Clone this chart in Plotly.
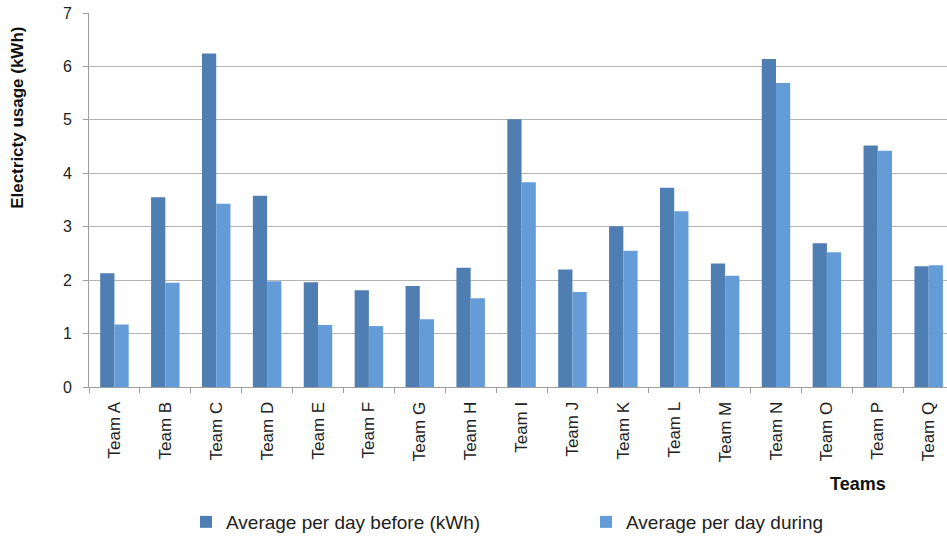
import plotly.graph_objects as go

teams = ["Team A", "Team B", "Team C", "Team D", "Team E", "Team F", "Team G", "Team H",
         "Team I", "Team J", "Team K", "Team L", "Team M", "Team N", "Team O", "Team P", "Team Q"]
before = [2.13, 3.55, 6.24, 3.58, 1.96, 1.81, 1.89, 2.23, 5.01, 2.20, 3.01, 3.73, 2.31, 6.14, 2.69, 4.52, 2.26]
during = [1.17, 1.95, 3.43, 1.98, 1.16, 1.14, 1.27, 1.66, 3.83, 1.78, 2.55, 3.29, 2.08, 5.69, 2.52, 4.42, 2.28]
series_names = ["Average per day before (kWh)", "Average per day during"]
y_ticks = [0, 1, 2, 3, 4, 5, 6, 7]

FONT = "Liberation Sans, Arial, sans-serif"

fig = go.Figure()
fig.add_trace(go.Bar(x=teams, y=before, name=series_names[0],
                     marker=dict(color="#4E7EB2", line=dict(width=0))))
fig.add_trace(go.Bar(x=teams, y=during, name=series_names[1],
                     marker=dict(color="#649CD8", line=dict(width=0))))

fig.update_layout(
    width=947, height=536,
    margin=dict(l=89, r=0, t=13, b=149),
    paper_bgcolor="white", plot_bgcolor="white",
    barmode="group", bargap=0.44, bargroupgap=0,
    font=dict(family=FONT, color="#222222"),
    showlegend=True,
    legend=dict(orientation="h", xref="container", yref="container",
                x=186/947, y=1 - 522/536, xanchor="left", yanchor="middle",
                entrywidth=355, font=dict(size=19, color="#222222"),
                bgcolor="rgba(0,0,0,0)", itemclick=False),
    xaxis=dict(type="category", range=[-0.5, 16.36],
               showline=True, linecolor="#9E9E9E", linewidth=1,
               ticks="outside", tickson="boundaries", ticklen=5, tickcolor="#9E9E9E",
               tickangle=-90, tickfont=dict(size=17, color="#222222"),
               ticklabelstandoff=7, showgrid=False, zeroline=False),
    yaxis=dict(range=[0, 7], tickvals=y_ticks, showgrid=True, gridcolor="#B4B4B4", gridwidth=1,
               showline=True, linecolor="#9E9E9E", linewidth=1,
               ticks="outside", ticklen=5, tickcolor="#9E9E9E",
               tickfont=dict(size=16, color="#222222"), ticklabelstandoff=8,
               zeroline=False),
    annotations=[
        dict(text="<b>Electricty usage (kWh)</b>", xref="paper", yref="paper",
             x=(18 - 89) / 858, y=(386.7 - 118) / 373.4, textangle=-90,
             showarrow=False, font=dict(size=17, color="#111111"),
             xanchor="center", yanchor="middle"),
        dict(text="<b>Teams</b>", xref="paper", yref="paper",
             x=(858 - 89) / 858, y=(386.7 - 484) / 373.4,
             showarrow=False, font=dict(size=18, color="#111111"),
             xanchor="center", yanchor="middle"),
    ],
)

fig.write_html("out.html")
